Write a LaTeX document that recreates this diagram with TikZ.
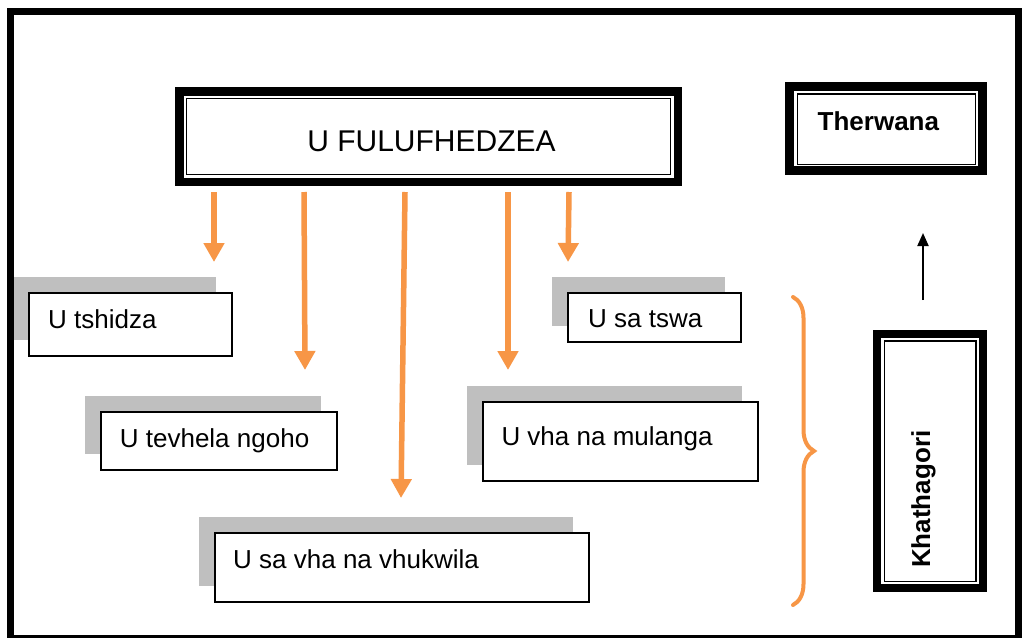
\documentclass[tikz,border=0pt]{standalone}
\usepackage{fontspec}
\setmainfont{Liberation Sans}
\usetikzlibrary{arrows.meta,shadows,decorations.pathreplacing}
\definecolor{accent}{HTML}{F79646}
\definecolor{shadowgray}{HTML}{BFBFBF}
\tikzset{
  frame/.style={draw=black, line width=7pt},
  thickbox/.style={rectangle, draw=black, line width=8.5pt, inner sep=0pt, outer sep=0pt},
  inline/.style={draw=black, line width=1.4pt},
  itembox/.style={rectangle, draw=black, line width=1.8pt, fill=white, inner sep=0pt, outer sep=0pt,
    drop shadow={shadow xshift=-16pt, shadow yshift=16pt, fill=shadowgray, opacity=1}},
  itemtext/.style={anchor=base west, inner sep=0pt, font=\fontsize{26}{30}\selectfont},
  headtext/.style={anchor=base west, inner sep=0pt, font=\fontsize{26}{30}\selectfont\bfseries},
  flow/.style={draw=accent, line width=5.5pt, -{Triangle[width=20pt,length=19pt]}},
  uparrow/.style={draw=black, line width=2pt, -{Triangle[width=11pt,length=13pt]}},
}
\begin{document}
\begin{tikzpicture}[x=1pt, y=-1pt]
  \useasboundingbox (0,0) rectangle (1022,637);
  \fill[white] (0,0) rectangle (1022,637);

  % main heading
  \node[thickbox, minimum width=498.5pt, minimum height=90.5pt] (title) at (428.5,136.5) {};
  \draw[inline] ([shift={(7,7)}]title.north west) rectangle ([shift={(-7,-7)}]title.south east);
  \node[anchor=base, inner sep=0pt, font=\fontsize{30}{34}\selectfont] (titletext) at (431.5,151.7) {U FULUFHEDZEA};

  % heading on the right
  \node[thickbox, minimum width=193pt, minimum height=84pt] (therwana) at (886,128.5) {};
  \draw[inline] ([shift={(8,7.5)}]therwana.north west) rectangle ([shift={(-7,-6)}]therwana.south east);
  \node[headtext] (therwanatext) at (817.5,130) {Therwana};

  % category box
  \node[thickbox, minimum width=105.6pt, minimum height=254.4pt] (khathagori) at (930,461) {};
  \draw[inline] ([shift={(7,7)}]khathagori.north west) rectangle ([shift={(-7,-7)}]khathagori.south east);
  \node[headtext, rotate=90] (khathagoritext) at (930,568) {Khathagori};

  % item boxes
  \node[itembox, minimum width=203pt, minimum height=63pt] (tshidza) at (130.8,324.2) {};
  \node[itemtext] (tshidzatext) at (48,328) {U tshidza};

  \node[itembox, minimum width=236.3pt, minimum height=58.3pt] (tevhela) at (219.2,440.9) {};
  \node[itemtext] (tevhelatext) at (119.7,447) {U tevhela ngoho};

  \node[itembox, minimum width=173pt, minimum height=49pt] (tswa) at (654.2,317.2) {};
  \node[itemtext] (tswatext) at (588,327.3) {U sa tswa};

  \node[itembox, minimum width=275.6pt, minimum height=79pt] (mulanga) at (620.5,441.2) {};
  \node[itemtext] (mulangatext) at (501.3,445) {U vha na mulanga};

  \node[itembox, minimum width=374pt, minimum height=69.6pt] (vhukwila) at (402,567.5) {};
  \node[itemtext] (vhukwilatext) at (233,568.3) {U sa vha na vhukwila};

  % arrows leaving the main heading
  \coordinate (s1) at (214,192);  \coordinate (e1) at (214,262);
  \coordinate (s2) at (304,192);  \coordinate (e2) at (305,370);
  \coordinate (s3) at (405,192);  \coordinate (e3) at (401,498);
  \coordinate (s4) at (508,192);  \coordinate (e4) at (508,370);
  \coordinate (s5) at (569,192);  \coordinate (e5) at (568,262);
  \draw[flow] (s1) -- (e1);
  \draw[flow] (s2) -- (e2);
  \draw[flow] (s3) -- (e3);
  \draw[flow] (s4) -- (e4);
  \draw[flow] (s5) -- (e5);

  % brace grouping the items
  \coordinate (bracetop) at (793,297);
  \coordinate (bracebottom) at (793,605);
  \draw[accent, line width=4pt, line cap=round,
        decorate, decoration={brace, amplitude=21pt, aspect=0.5}]
        (bracetop) -- (bracebottom);

  % arrow from category up to the heading
  \coordinate (upstart) at (923,300);
  \coordinate (upend) at (923,233);
  \draw[uparrow] (upstart) -- (upend);

  % outer frame
  \draw[frame] (10.5,11) rectangle (1018.5,638);
\end{tikzpicture}
\end{document}
